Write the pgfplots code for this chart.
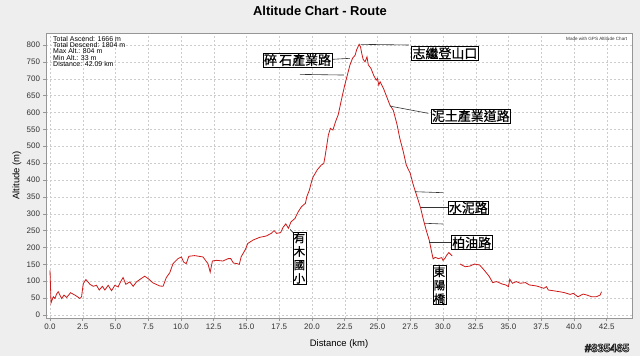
\documentclass[border=0pt]{standalone}
\usepackage{pgfplots}
\pgfplotsset{compat=1.18}
\usepackage{fontspec}
\setmainfont{Liberation Sans}
\newfontfamily\cjk[FakeBold=0.8]{Noto Sans CJK TC}
\definecolor{bg}{RGB}{238,238,238}
\definecolor{gridc}{RGB}{205,205,205}
\definecolor{curve}{RGB}{205,25,25}
\definecolor{framec}{RGB}{150,150,150}
\newcommand\wm{\#835465}
\begin{document}
\begin{tikzpicture}
\fill[bg] (0,0) rectangle (640bp,356bp);
\useasboundingbox (0,0) rectangle (640bp,356bp);
\node[font=\fontsize{13}{15}\selectfont\bfseries] at (320bp,345bp) {Altitude Chart - Route};
\begin{axis}[
  at={(46bp,38bp)}, anchor=south west,
  scale only axis, width=586bp, height=285bp,
  xmin=-0.305, xmax=44.43, ymin=-8.9, ymax=835.6,
  axis background/.style={fill=white},
  axis line style={framec, line width=0.6bp},
  xtick={0,2.5,5,7.5,10,12.5,15,17.5,20,22.5,25,27.5,30,32.5,35,37.5,40,42.5},
  ytick={0,50,...,800},
  tick pos=left, tick align=outside,
  major tick length=2.5bp,
  tick style={framec, line width=0.5bp},
  grid=major,
  major grid style={gridc, dash pattern=on 2bp off 2bp, line width=0.4bp},
  ticklabel style={font=\fontsize{8}{9}\selectfont, text=black!80},
  /pgf/number format/assume math mode=true,
  xticklabel style={/pgf/number format/.cd, fixed, fixed zerofill, precision=1},
  yticklabel style={/pgf/number format/.cd, fixed, precision=0},
  xlabel={Distance (km)}, ylabel={Altitude (m)},
  every axis x label/.style={at={(axis description cs:0.5,-0.09)}, anchor=center, font=\fontsize{9.5}{11}\selectfont},
  every axis y label/.style={at={(axis description cs:-0.0495,0.5)}, anchor=center, rotate=90, font=\fontsize{9.5}{11}\selectfont},
  clip=false,
]
\addplot[curve, line width=0.8bp] coordinates {
(0.00,132)(0.08,36)(0.25,54)(0.38,49)(0.50,62)(0.63,69)(0.76,59)(0.89,49)(1.00,55)(1.07,59)
(1.27,52)(1.57,66)(1.90,59)(2.10,54)(2.28,49)(2.41,54)(2.54,93)(2.74,105)(2.90,98)(3.05,91)
(3.30,85)(3.55,88)(3.76,74)(4.00,85)(4.19,74)(4.44,88)(4.70,72)(4.95,88)(5.20,83)(5.38,98)
(5.58,111)(5.79,91)(6.09,98)(6.35,85)(6.60,98)(6.85,105)(7.23,115)(7.49,108)(7.87,95)(8.38,86)
(8.63,85)(8.88,111)(9.14,125)(9.39,152)(9.77,167)(10.03,172)(10.20,157)(10.40,152)(10.60,174)(11.04,176)
(11.68,172)(12.06,152)(12.23,127)(12.40,160)(12.70,162)(13.20,160)(13.60,167)(13.80,167)(14.00,154)(14.30,152)
(14.45,150)(14.60,173)(14.90,193)(15.10,212)(15.50,222)(16.00,230)(16.50,234)(16.90,242)(17.10,250)(17.30,242)
(17.60,244)(17.80,260)(18.00,270)(18.20,257)(18.40,276)(18.70,286)(18.95,306)(19.20,321)(19.50,331)(19.60,350)
(19.80,370)(20.00,400)(20.10,410)(20.40,430)(20.70,444)(20.90,449)(21.00,470)(21.25,533)(21.40,553)(21.60,548)
(21.80,573)(22.00,593)(22.30,647)(22.50,681)(22.70,711)(22.90,741)(23.10,761)(23.30,770)(23.40,785)(23.60,802)
(23.70,795)(23.80,775)(23.90,758)(24.05,750)(24.20,765)(24.30,741)(24.50,731)(24.70,711)(24.90,696)(25.00,701)
(25.10,681)(25.20,691)(25.45,672)(25.70,647)(25.95,622)(26.20,607)(26.30,593)(26.50,563)(26.70,524)(26.97,484)
(27.20,444)(27.50,420)(27.70,390)(27.90,365)(28.10,341)(28.30,316)(28.45,291)(28.55,276)(28.75,247)(28.95,222)
(29.10,193)(29.25,166)(29.40,171)(29.65,167)(29.90,170)(30.00,162)(30.15,168)(30.30,178)(30.45,185)(30.60,179)
(30.70,175)
};
\addplot[curve, line width=0.8bp] coordinates {
(31.30,151)(31.70,143)(32.06,145)(32.40,151)(32.80,148)(33.10,135)(33.50,116)(33.80,96)(34.10,99)(34.50,92)
(34.80,89)(35.00,84)(35.10,106)(35.30,94)(35.60,99)(35.90,94)(36.30,96)(36.60,89)(37.15,86)(37.70,79)
(37.90,84)(38.04,74)(38.40,72)(38.90,69)(39.30,66)(39.70,61)(39.95,64)(40.30,54)(40.70,62)(41.00,59)
(41.35,54)(41.70,54)(42.00,59)(42.10,69)
};
% stats text
\node[anchor=north west, align=left, inner sep=0, font=\fontsize{7}{6.4}\selectfont] at (rel axis cs:0.012,0.99)
  {Total Ascend: 1666 m\\Total Descend: 1804 m\\Max Alt.: 804 m\\Min Alt.: 33 m\\Distance: 42.09 km};
\node[anchor=north east, inner sep=0, font=\fontsize{4.6}{5}\selectfont, text=black!80] at (rel axis cs:0.992,0.985)
  {Made with GPS Altitude Chart};
% annotations
\tikzset{lbl/.style={draw=black, fill=white, inner sep=1bp, line width=0.6bp, font=\cjk\fontsize{13}{14}\selectfont},
         vlbl/.style={draw=black, fill=white, inner sep=0.8bp, line width=0.6bp, align=center, font=\cjk\fontsize{11.5}{13.5}\selectfont},
         ldr/.style={black!80, line width=0.6bp}}
\draw[ldr] (21.58,757.6) -- (22.9,760.6);
\draw[ldr] (19.08,713) -- (22.44,711);
\node[lbl] at (18.9,755.6) {碎\,石產業路};
\draw[ldr] (23.72,802) -- (27.4,800);
\node[lbl] at (30.15,775.4) {志繼登山口};
\draw[ldr] (25.95,619) -- (28.88,597.6);
\node[lbl] at (32.12,589.6) {泥土產業道路};
\draw[ldr] (27.86,365.3) -- (30.02,362.4);
\draw[ldr] (28.30,318) -- (30.4,318);
\draw[ldr] (28.63,271.7) -- (30.02,269.6);
\node[lbl] at (31.93,317.6) {水泥路};
\draw[ldr] (28.95,215.4) -- (30.79,215.4);
\node[lbl] at (32.19,214.2) {柏油路};
\node[vlbl, anchor=north] at (29.73,147) {東\\陽\\橋};
\draw[ldr] (18.32,254) -- (18.57,243.9);
\node[vlbl, anchor=north] at (19.04,247) {有\\木\\國\\小};
\end{axis}
% watermark: white text with dark outline (text render mode 2)
\node[font=\fontsize{11.5}{12}\selectfont\bfseries] at (607bp,8bp)
  {\textcolor{white}{\special{pdf:literal direct 0.15 G 0.7 w 2 Tr}\wm\special{pdf:literal direct 0 Tr}}};
\end{tikzpicture}
\end{document}
